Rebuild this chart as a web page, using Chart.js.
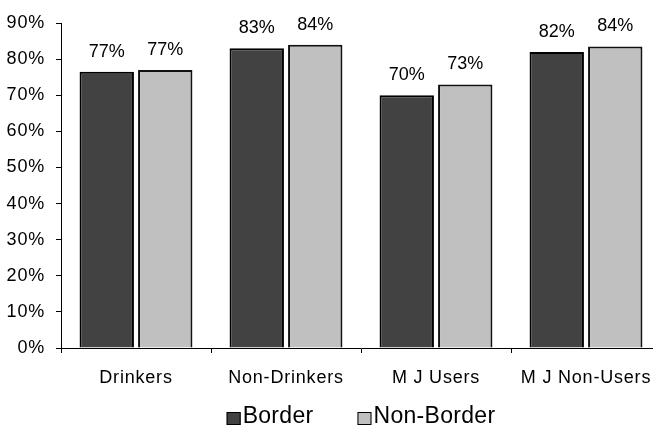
<!DOCTYPE html>
<html>
<head>
<meta charset="utf-8">
<script src="https://cdn.jsdelivr.net/npm/chart.js@4.4.1/dist/chart.umd.min.js"></script>
<style>
html,body{margin:0;padding:0;background:#fff;overflow:hidden;}
#wrap{width:720px;height:425px;position:relative;}
</style>
</head>
<body>
<div id="wrap"><canvas id="c" width="720" height="425"></canvas></div>
<script>
const categories = ["Drinkers", "Non-Drinkers", "M J Users", "M J Non-Users"];
const seriesNames = ["Border", "Non-Border"];
const borderValues = [76.5, 83, 70, 82];
const nonBorderValues = [77, 84, 73, 83.5];
const yTicks = [0, 10, 20, 30, 40, 50, 60, 70, 80, 90];

const FONT = '"Liberation Sans", Arial, sans-serif';

const spacingPlugin = {
  id: 'spacing',
  beforeDraw(chart) { chart.ctx.letterSpacing = '0.8px'; }
};

const valueLabels = {
  id: 'valueLabels',
  afterDatasetsDraw(chart) {
    const ctx = chart.ctx;
    ctx.save();
    ctx.letterSpacing = '0px';
    ctx.font = '18px ' + FONT;
    ctx.fillStyle = '#000';
    ctx.textAlign = 'center';
    ctx.textBaseline = 'alphabetic';
    chart.data.datasets.forEach((ds, i) => {
      chart.getDatasetMeta(i).data.forEach((bar, j) => {
        ctx.fillText(Math.round(ds.data[j]) + '%', bar.x, bar.y - 15);
      });
    });
    ctx.restore();
  }
};

const customLegend = {
  id: 'customLegend',
  afterDraw(chart) {
    const ctx = chart.ctx;
    ctx.save();
    ctx.letterSpacing = '0.3px';
    ctx.font = '23px ' + FONT;
    const box = 14, gapText = 2, gapItem = 44;
    const items = chart.data.datasets.map(ds => ({
      label: ds.label, fill: ds.backgroundColor, w: ctx.measureText(ds.label).width
    }));
    let total = 0;
    items.forEach((it, k) => { total += box + gapText + it.w + (k < items.length - 1 ? gapItem : 0); });
    const ca = chart.chartArea;
    let x = (ca.left + ca.right) / 2 - total / 2;
    const baseline = 423;
    items.forEach(it => {
      ctx.fillStyle = it.fill;
      ctx.fillRect(x, baseline - 11, box, 13);
      ctx.strokeStyle = '#000';
      ctx.lineWidth = 1;
      ctx.strokeRect(x + 0.5, baseline - 10.5, box - 1, 12);
      ctx.fillStyle = '#000';
      ctx.textAlign = 'left';
      ctx.textBaseline = 'alphabetic';
      ctx.fillText(it.label, x + box + gapText, baseline);
      x += box + gapText + it.w + gapItem;
    });
    ctx.restore();
  }
};

new Chart(document.getElementById('c'), {
  type: 'bar',
  data: {
    labels: categories,
    datasets: [
      { label: seriesNames[0], data: borderValues, backgroundColor: '#424242', borderColor: '#000', borderWidth: 2 },
      { label: seriesNames[1], data: nonBorderValues, backgroundColor: '#c0c0c0', borderColor: '#111', borderWidth: 2 }
    ]
  },
  options: {
    responsive: false,
    animation: false,
    devicePixelRatio: 1,
    layout: { padding: { top: 23, left: 0, right: 59, bottom: 37 } },
    datasets: { bar: { categoryPercentage: 0.78, barPercentage: 0.93 } },
    plugins: { legend: { display: false }, tooltip: { enabled: false } },
    scales: {
      x: {
        afterFit(s) { s.height = 40; },
        grid: { display: true, drawOnChartArea: false, drawTicks: true, tickLength: 5, color: '#000', offset: true },
        border: { display: true, color: '#000', width: 1 },
        ticks: { color: '#000', font: { family: FONT, size: 18 }, padding: 14, maxRotation: 0, autoSkip: false }
      },
      y: {
        min: 0, max: 90,
        afterFit(s) { s.width = 61; },
        afterBuildTicks(s) { s.ticks = yTicks.map(v => ({ value: v })); },
        grid: { display: true, drawOnChartArea: false, drawTicks: true, tickLength: 5, color: '#000' },
        border: { display: true, color: '#000', width: 1 },
        ticks: { color: '#000', font: { family: FONT, size: 18 }, padding: 11, callback: v => v + '%' }
      }
    }
  },
  plugins: [spacingPlugin, valueLabels, customLegend]
});
</script>
</body>
</html>
